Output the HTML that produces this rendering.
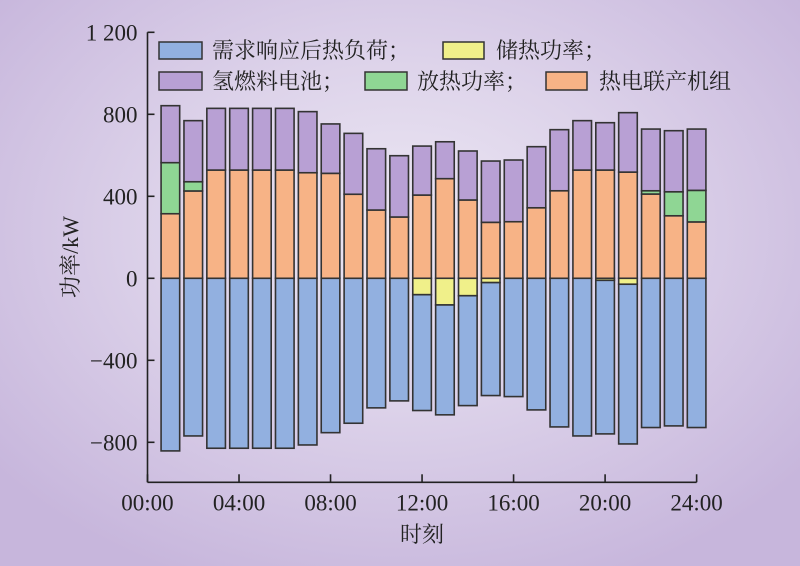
<!DOCTYPE html>
<html><head><meta charset="utf-8">
<style>
html,body{margin:0;padding:0;}
body{width:800px;height:566px;overflow:hidden;background:radial-gradient(ellipse 520px 380px at 400px 230px,#ece7f3 0%,#ddd3ea 45%,#c7b6dc 100%);}
svg{display:block;font-family:"Liberation Serif","Noto Serif CJK SC","Noto Sans CJK SC",serif;}
</style></head>
<body>
<svg id="chart" width="800" height="566" viewBox="0 0 800 566" xmlns="http://www.w3.org/2000/svg">
<g id="bars"></g>
<g id="axes"></g>
<text x="0" y="0" transform="translate(78,257) rotate(-90)" text-anchor="middle" font-size="22" fill="#222">功率/kW</text>
<text x="422" y="542" text-anchor="middle" font-size="22" fill="#222">时刻</text>
<g font-size="22" fill="#222">
<rect x="159" y="42" width="43" height="17" fill="#92b0e0" stroke="#333" stroke-width="1.5"/>
<text x="212" y="58">需求响应后热负荷；</text>
<rect x="443" y="42" width="41" height="17" fill="#f0f08a" stroke="#333" stroke-width="1.5"/>
<text x="496" y="58">储热功率；</text>
<rect x="159" y="72" width="43" height="18" fill="#b8a0d4" stroke="#333" stroke-width="1.5"/>
<text x="212" y="89">氢燃料电池；</text>
<rect x="365" y="72" width="42" height="18" fill="#8fd694" stroke="#333" stroke-width="1.5"/>
<text x="417" y="89">放热功率；</text>
<rect x="546" y="72" width="41" height="18" fill="#f7b386" stroke="#333" stroke-width="1.5"/>
<text x="599" y="89">热电联产机组</text>
</g>
</svg>
<script>
const hours = [1,2,3,4,5,6,7,8,9,10,11,12,13,14,15,16,17,18,19,20,21,22,23,24];
const chp = [315,426,528,528,528,528,515,512,410,333,299,406,486,382,273,276,344,427,528,528,518,411,305,275];
const release = [249,45,0,0,0,0,0,0,0,0,0,0,0,0,0,0,0,0,0,0,0,16,117,154];
const fuelCell = [278,298,301,301,301,301,298,241,297,299,299,239,180,239,299,301,298,298,241,231,290,301,298,299];
const storage = [0,0,0,0,0,0,0,0,0,0,0,80,130,85,21,0,0,0,0,10,29,0,0,0];
const yTicks = [-800,-400,0,400,800,1200];
const yTickLabels = ["\u2212800","\u2212400","0","400","800","1 200"];
const xTicks = [0,4,8,12,16,20,24];
const xTickLabels = ["00:00","04:00","08:00","12:00","16:00","20:00","24:00"];

const NS = "http://www.w3.org/2000/svg";
const x0 = 147.5, hourW = 22.88;
const xs = h => x0 + h * hourW;
const yZero = 278.3, k = 0.205;
const ys = v => yZero - v * k;
const barW = 18.6;
const bars = document.getElementById('bars');
const axes = document.getElementById('axes');
function rect(y1, y2, i, fill, name) {
  const r = document.createElementNS(NS, 'rect');
  
  
  r.setAttribute('x', xs(hours[i]) - barW / 2);
  r.setAttribute('y', Math.min(y1, y2));
  r.setAttribute('width', barW);
  r.setAttribute('height', Math.abs(y2 - y1));
  r.setAttribute('fill', fill);
  r.setAttribute('stroke', '#333');
  r.setAttribute('stroke-width', '1.6');
  bars.appendChild(r);
}
hours.forEach((h, i) => {
  const total = chp[i] + release[i] + fuelCell[i];
  const demand = total - storage[i];
  rect(ys(0), ys(chp[i]), i, '#f7b386', 'bar-chp');
  if (release[i] > 0) rect(ys(chp[i]), ys(chp[i] + release[i]), i, '#8fd694', 'bar-release');
  rect(ys(chp[i] + release[i]), ys(total), i, '#b8a0d4', 'bar-fuelcell');
  if (storage[i] > 0) rect(ys(0), ys(-storage[i]), i, '#f0f08a', 'bar-storage');
  rect(ys(-storage[i]), ys(-storage[i] - demand), i, '#92b0e0', 'bar-demand');
});
function line(x1, y1, x2, y2, name) {
  const l = document.createElementNS(NS, 'line');
  
  
  l.setAttribute('x1', x1); l.setAttribute('y1', y1);
  l.setAttribute('x2', x2); l.setAttribute('y2', y2);
  l.setAttribute('stroke', '#222'); l.setAttribute('stroke-width', '1.6');
  axes.appendChild(l);
}
function text(x, y, s, anchor, name) {
  const t = document.createElementNS(NS, 'text');
  
  
  t.setAttribute('x', x); t.setAttribute('y', y);
  t.setAttribute('text-anchor', anchor);
  t.setAttribute('font-size', '23');
  t.setAttribute('fill', '#222');
  t.textContent = s;
  axes.appendChild(t);
}
const yBottom = ys(-995);
line(x0, ys(1200), x0, yBottom, 'y-axis-line');
line(x0, yBottom, xs(24), yBottom, 'x-axis-line');
yTicks.forEach((v, i) => {
  line(x0, ys(v), x0 + 7, ys(v), 'y-tick');
  text(x0 - 10, ys(v) + 8, yTickLabels[i], 'end', 'y-tick-label');
});
xTicks.forEach((h, i) => {
  line(xs(h), yBottom, xs(h), yBottom - 8, 'x-tick');
  text(xs(h), yBottom + 28, xTickLabels[i], 'middle', 'x-tick-label');
});
</script>
</body></html>
